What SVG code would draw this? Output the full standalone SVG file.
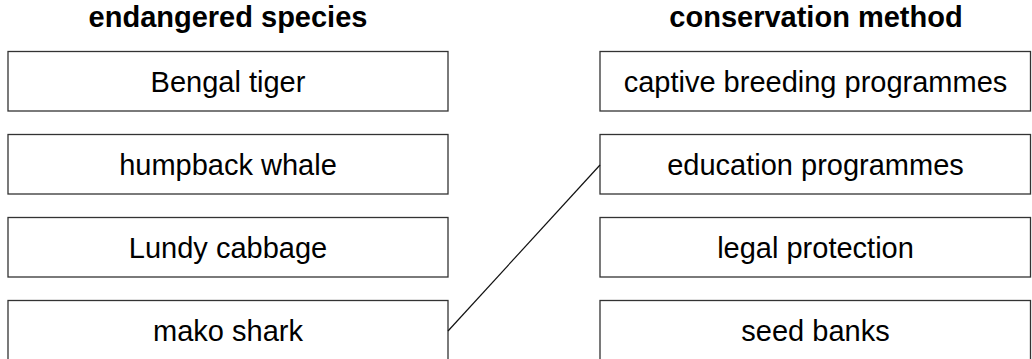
<svg xmlns="http://www.w3.org/2000/svg" width="1032" height="359" viewBox="0 0 1032 359">
  <style>
    .box { fill: #ffffff; stroke: #333333; stroke-width: 1.3; }
    .label { font-family: "Liberation Sans", Arial, sans-serif; font-size: 29px; fill: #000000; text-anchor: middle; }
    .head { font-family: "Liberation Sans", Arial, sans-serif; font-size: 29px; font-weight: bold; fill: #000000; text-anchor: middle; }
    .link { stroke: #111111; stroke-width: 1.2; fill: none; }
  </style>
  <rect width="1032" height="359" fill="#ffffff"/>

  <!-- column headings -->
  <text class="head" x="228" y="27">endangered species</text>
  <text class="head" x="816" y="27">conservation method</text>

  <!-- species column -->
  <g id="species-bengal-tiger">
    <rect class="box" x="8" y="51.5" width="440" height="59.5"/>
    <text class="label" x="228" y="91.5">Bengal tiger</text>
  </g>
  <g id="species-humpback-whale">
    <rect class="box" x="8" y="134.5" width="440" height="59.5"/>
    <text class="label" x="228" y="174.5">humpback whale</text>
  </g>
  <g id="species-lundy-cabbage">
    <rect class="box" x="8" y="217.5" width="440" height="59.5"/>
    <text class="label" x="228" y="257.5">Lundy cabbage</text>
  </g>
  <g id="species-mako-shark">
    <rect class="box" x="8" y="300.5" width="440" height="59.5"/>
    <text class="label" x="228" y="340.5">mako shark</text>
  </g>

  <!-- method column -->
  <g id="method-captive-breeding">
    <rect class="box" x="600" y="51.5" width="430.5" height="59.5"/>
    <text class="label" x="815.5" y="91.5">captive breeding programmes</text>
  </g>
  <g id="method-education">
    <rect class="box" x="600" y="134.5" width="430.5" height="59.5"/>
    <text class="label" x="815.5" y="174.5">education programmes</text>
  </g>
  <g id="method-legal-protection">
    <rect class="box" x="600" y="217.5" width="430.5" height="59.5"/>
    <text class="label" x="815.5" y="257.5">legal protection</text>
  </g>
  <g id="method-seed-banks">
    <rect class="box" x="600" y="300.5" width="430.5" height="59.5"/>
    <text class="label" x="815.5" y="340.5">seed banks</text>
  </g>

  <!-- connectors -->
  <g id="connectors">
    <line class="link" x1="448" y1="331" x2="600" y2="165"/>
  </g>
</svg>
